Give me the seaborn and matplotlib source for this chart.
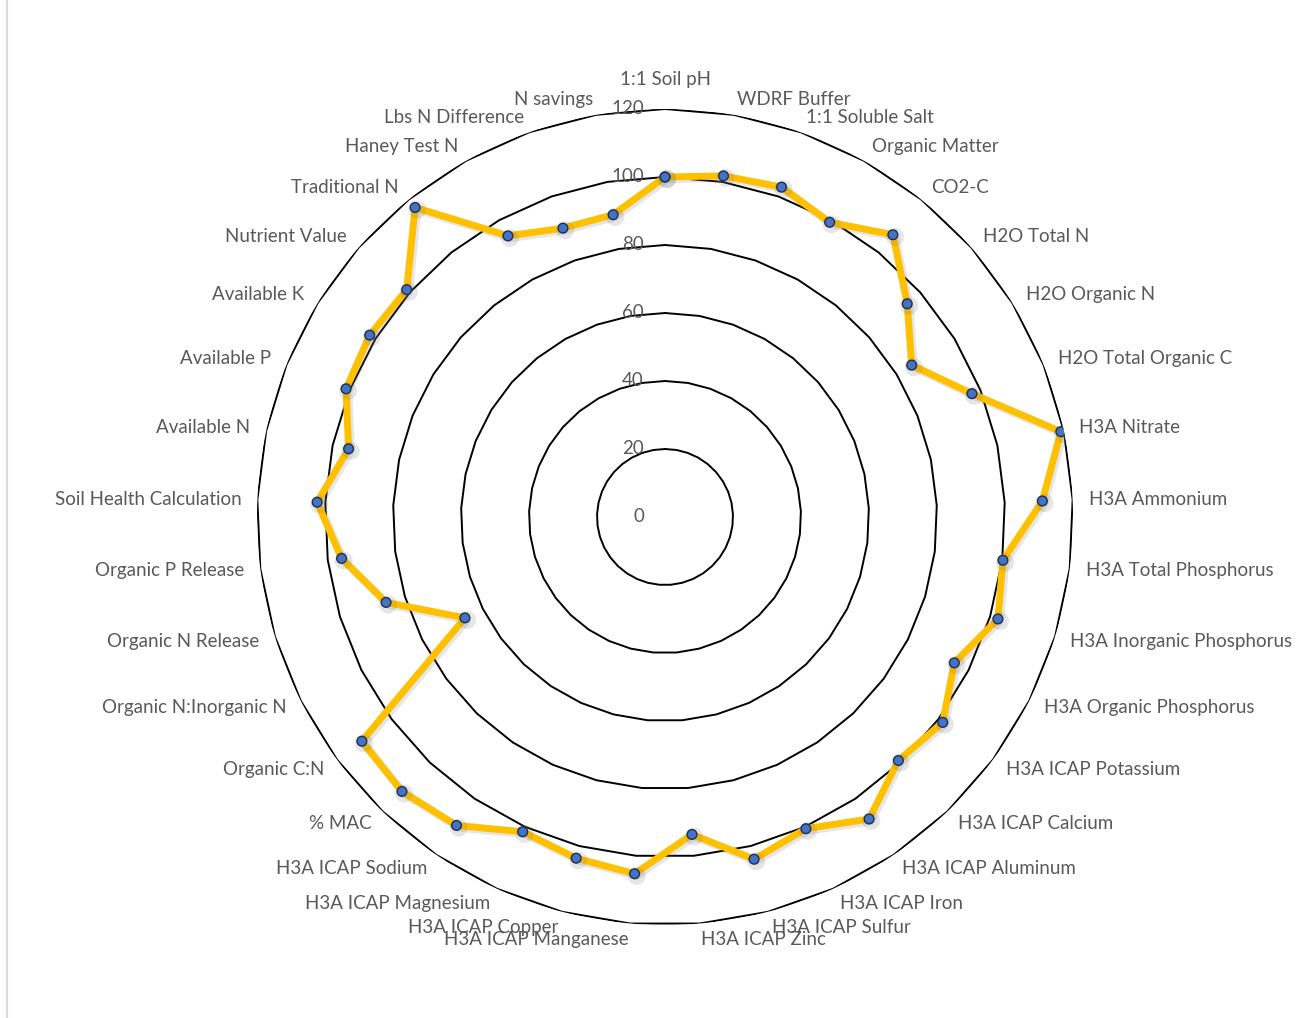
import numpy as np
import pandas as pd
import matplotlib
matplotlib.use("Agg")
import matplotlib.pyplot as plt
import matplotlib.patheffects as pe
from matplotlib.lines import Line2D
import seaborn as sns

categories = [
    "1:1 Soil pH", "WDRF Buffer", "1:1 Soluble Salt", "Organic Matter", "CO2-C",
    "H2O Total N", "H2O Organic N", "H2O Total Organic C", "H3A Nitrate",
    "H3A Ammonium", "H3A Total Phosphorus", "H3A Inorganic Phosphorus",
    "H3A Organic Phosphorus", "H3A ICAP Potassium", "H3A ICAP Calcium",
    "H3A ICAP Aluminum", "H3A ICAP Iron", "H3A ICAP Sulfur", "H3A ICAP Zinc",
    "H3A ICAP Manganese", "H3A ICAP Copper", "H3A ICAP Magnesium",
    "H3A ICAP Sodium", "% MAC", "Organic C:N", "Organic N:Inorganic N",
    "Organic N Release", "Organic P Release", "Soil Health Calculation",
    "Available N", "Available P", "Available K", "Nutrient Value",
    "Traditional N", "Haney Test N", "Lbs N Difference", "N savings",
]
values = [
    100.0, 101.8, 102.9, 99.3, 106.7, 94.9, 85.2, 97.3, 119.1,
    111.1, 100.2, 102.4, 95.3, 101.6, 99.2, 107.2, 100.6, 104.0, 93.7,
    105.3, 103.7, 101.6, 109.5, 111.8, 110.9, 65.9, 85.8, 95.9, 102.4,
    95.2, 101.1, 102.0, 101.2, 117.0, 94.7, 90.1, 90.2,
]
ring_values = [0, 20, 40, 60, 80, 100, 120]

W, H = 1311, 1018
fig = plt.figure(figsize=(W / 100, H / 100), dpi=100)
fig.patch.set_facecolor("white")

# polar axes centred at (665, 517) px, outer ring radius 408 px
cx, cy, R = 665, 517, 408
ax = fig.add_axes([(cx - R) / W, (H - cy - R) / H, 2 * R / W, 2 * R / H],
                  projection="polar")
ax.set_theta_zero_location("N")
ax.set_theta_direction(-1)
ax.set_ylim(0, 120)
ax.grid(False)
ax.set_xticks([])
ax.set_yticks([])
ax.spines["polar"].set_visible(False)
ax.set_facecolor("none")

n = len(categories)
angles = np.arange(n) * 2 * np.pi / n

# polygonal gridlines
poly_t = np.append(angles, 2 * np.pi)
for rv in ring_values[1:]:
    ax.plot(poly_t, [rv] * (n + 1), color="black", lw=1.4, zorder=1)

# data series
df = pd.DataFrame({"theta": np.append(angles, 2 * np.pi),
                   "value": values + [values[0]]})
sns.lineplot(data=df, x="theta", y="value", ax=ax, sort=False,
             color="#FFC000", lw=5, zorder=3,
             marker="o", markersize=7, markerfacecolor="#4472C4",
             markeredgecolor="#1F2F50", markeredgewidth=1.0,
             path_effects=[pe.SimpleLineShadow(offset=(1.5, -1.5),
                                               shadow_color="#777777",
                                               alpha=0.18, linewidth=6),
                           pe.Normal()])
ax.set_xlabel("")
ax.set_ylabel("")
ax.set_ylim(0, 120)

label_color = "#595959"
font = ["Lato", "DejaVu Sans"]
fs = 13.5

# category labels
r_lab = 120 * 424 / R
for ang, name in zip(angles, categories):
    deg = np.degrees(ang)
    if deg < 0.5:
        ax.text(ang, 120 * 438 / R, name, ha="center", va="center",
                color=label_color, fontsize=fs, family=font)
        continue
    ha = "left" if deg < 180 else "right"
    ax.text(ang, r_lab, name, ha=ha, va="center",
            color=label_color, fontsize=fs, family=font)

# radial value labels
for rv in ring_values:
    ax.annotate(str(rv), xy=(0, rv), xytext=(-21, 0),
                textcoords="offset pixels", ha="right", va="center",
                color=label_color, fontsize=fs, family=font, zorder=2)

# chart area border on the left edge
fig.add_artist(Line2D([7 / W, 7 / W], [0, 1], color="#d9d9d9", lw=1.5))

fig.savefig("out.png", dpi=100)
